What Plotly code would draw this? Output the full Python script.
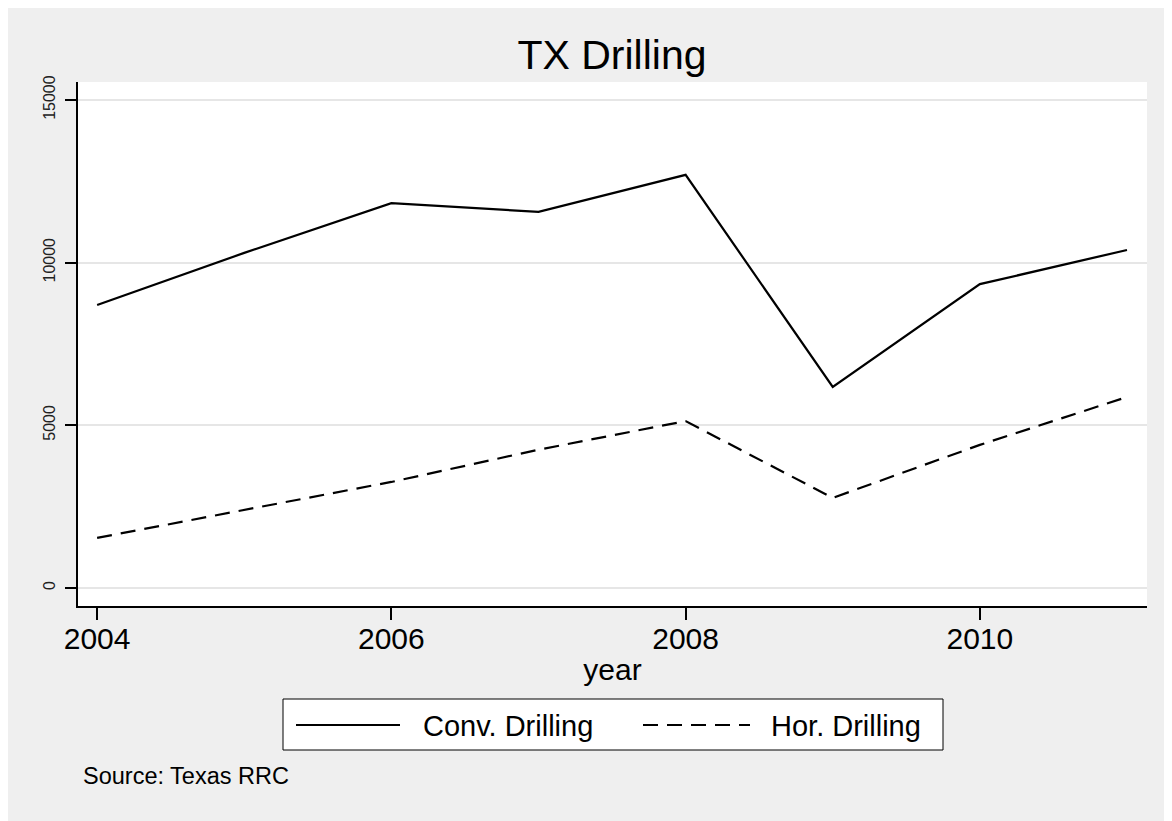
import plotly.graph_objects as go

years = [2004, 2005, 2006, 2007, 2008, 2009, 2010, 2011]
conv_drilling = [8700, 10300, 11830, 11560, 12700, 6180, 9340, 10390]
hor_drilling = [1540, 2400, 3260, 4250, 5130, 2770, 4400, 5870]
series_names = ["Conv. Drilling", "Hor. Drilling"]
x_ticks = [2004, 2006, 2008, 2010]
y_ticks = [0, 5000, 10000, 15000]
y_tick_labels = ["0", "5000", "10000", "15000"]

FONT = "Liberation Sans, Arial, sans-serif"
DASH = "15px,9px"

fig = go.Figure()
fig.add_trace(go.Scatter(x=years, y=conv_drilling, mode="lines", name=series_names[0],
                         line=dict(color="black", width=2.2), showlegend=False))
fig.add_trace(go.Scatter(x=years, y=hor_drilling, mode="lines", name=series_names[1],
                         line=dict(color="black", width=2.2, dash=DASH), showlegend=False))

# page body has an 8px margin; figure is drawn at (8, 8)
OFF = 8
FW, FH = 1172 - OFF, 821 - OFF
# plot-area geometry in screenshot pixels
L, R, T, B = 78, 1147, 82, 606
W, H = R - L, B - T
px = lambda v: (v - L) / W
py = lambda v: (B - v) / H

shapes = [
    dict(type="rect", xref="paper", yref="paper", x0=px(283), x1=px(943), y0=py(750), y1=py(699),
         line=dict(color="black", width=1), fillcolor="white", layer="above"),
    dict(type="line", xref="paper", yref="paper", x0=px(296), x1=px(400), y0=py(725), y1=py(725),
         line=dict(color="black", width=2.2)),
    dict(type="line", xref="paper", yref="paper", x0=px(643), x1=px(750), y0=py(725), y1=py(725),
         line=dict(color="black", width=2.2, dash=DASH)),
]

annotations = [
    dict(text=series_names[0], xref="paper", yref="paper", x=px(421), y=py(726), xanchor="left",
         yanchor="middle", showarrow=False, font=dict(family=FONT, size=29, color="black")),
    dict(text=series_names[1], xref="paper", yref="paper", x=px(769), y=py(726), xanchor="left",
         yanchor="middle", showarrow=False, font=dict(family=FONT, size=29, color="black")),
    dict(text="Source: Texas RRC", xref="paper", yref="paper", x=px(81), y=py(776), xanchor="left",
         yanchor="middle", showarrow=False, font=dict(family=FONT, size=23.5, color="black")),
]

fig.update_layout(
    width=FW, height=FH,
    margin=dict(l=L - OFF, r=FW - (R - OFF), t=T - OFF, b=FH - (B - OFF), pad=0),
    paper_bgcolor="#efefef", plot_bgcolor="white",
    font=dict(family=FONT, color="black"),
    title=dict(text="TX Drilling", x=px(612), xref="paper", xanchor="center",
               y=1 - (55 - OFF) / FH, yref="container", yanchor="middle",
               font=dict(family=FONT, size=41, color="black")),
    shapes=shapes, annotations=annotations,
    showlegend=False,
)
fig.update_xaxes(range=[2003.87, 2011.136], tickvals=x_ticks, ticks="outside", ticklen=12,
                 tickwidth=1.5, tickcolor="black", showline=True, linecolor="black", linewidth=1.5,
                 showgrid=False, zeroline=False, tickfont=dict(size=30, color="black"),
                 ticklabelstandoff=-7,
                 title=dict(text="year", font=dict(size=30, color="black"), standoff=5))
fig.update_yaxes(range=[-553, 15553], tickvals=y_ticks, ticktext=y_tick_labels, ticks="outside",
                 ticklen=11, tickwidth=1.5, tickcolor="black", showline=True, linecolor="black",
                 linewidth=1.5, showgrid=True, gridcolor="#e6e6e6", gridwidth=2, zeroline=False,
                 tickangle=-90, ticklabelstandoff=4, tickfont=dict(size=16, color="#222"))

fig.write_html("out.html")
